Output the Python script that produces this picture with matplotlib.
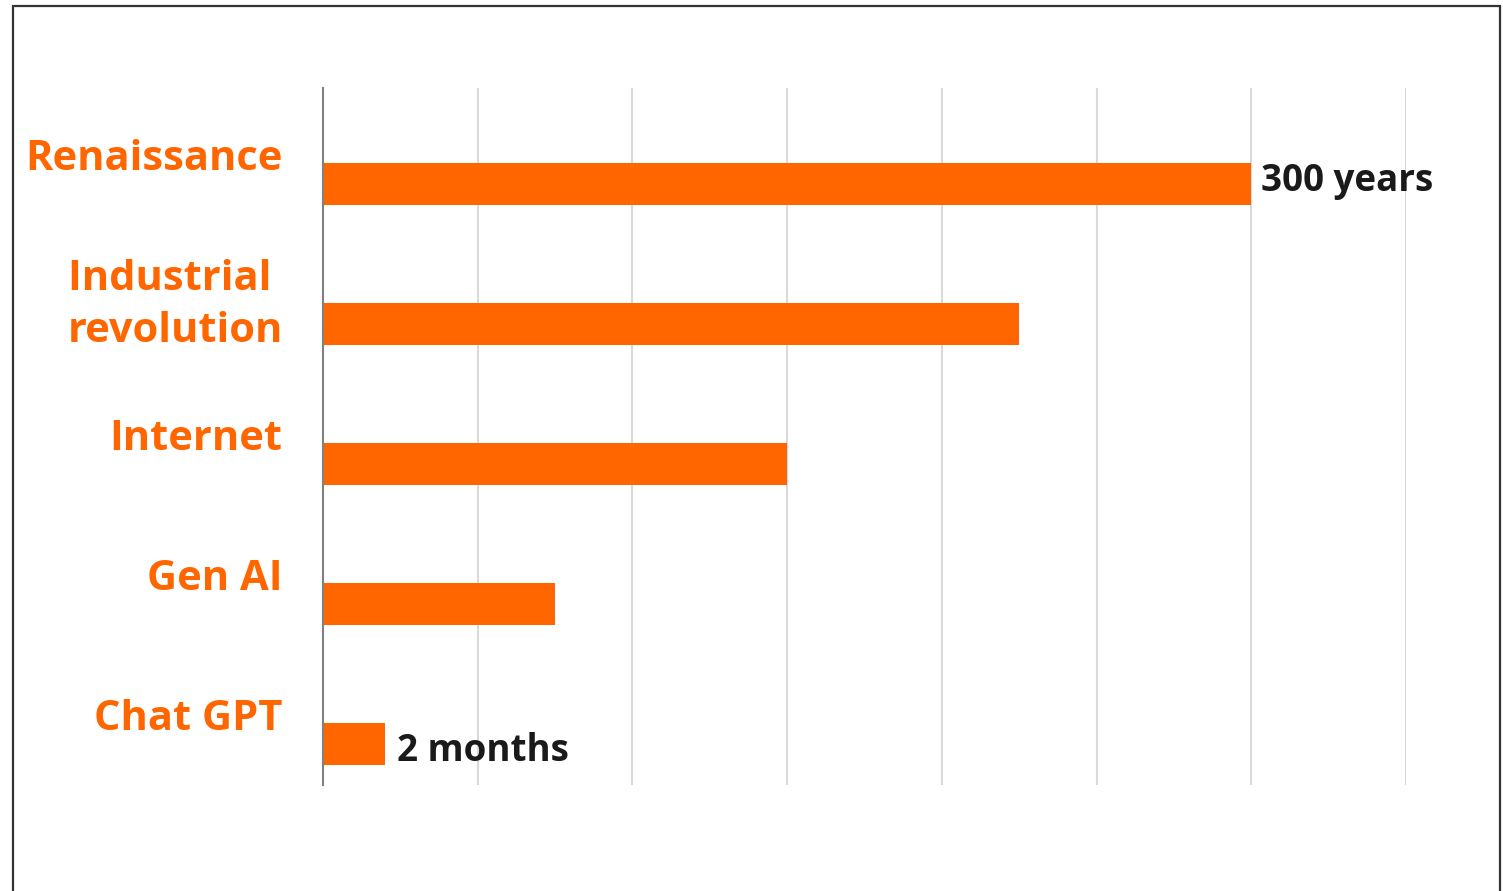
import matplotlib.pyplot as plt
from matplotlib.patches import Rectangle

# data
events = ['Renaissance', 'Industrial \nrevolution', 'Internet', 'Gen AI', 'Chat GPT']
durations = [6, 4.5, 3, 1.5, 0.4]
bar_labels = {0: '300 years', 4: '2 months'}

orange = '#FF6600'
plt.rcParams['font.family'] = ['Open Sans', 'DejaVu Sans']

fig = plt.figure(figsize=(15.03, 8.91), dpi=100)
ax = fig.add_axes([0.2149, 0.119, 0.7206, 0.7822])

ypos = list(range(len(events)))
ax.barh(ypos, durations, height=0.3, color=orange, zorder=2)

# category labels sit a little above each bar
ax.set_yticks([y - 0.21 for y in ypos])
ax.set_yticklabels(events, fontsize=30, fontweight='bold', color=orange,
                   linespacing=1.38)
ax.tick_params(axis='y', length=0, pad=29)
ax.tick_params(axis='x', length=0, labelbottom=False)

# end-of-bar notes
ax.text(durations[0] + 0.06, ypos[0] - 0.02, bar_labels[0], fontsize=26.5,
        fontweight='bold', color='#1a1a1a', va='center', ha='left')
ax.text(durations[4] + 0.08, ypos[4] + 0.05, bar_labels[4], fontsize=26.5,
        fontweight='bold', color='#1a1a1a', va='center', ha='left')

ax.set_xlim(0, 7)
ax.set_xticks(range(0, 8))
ax.set_ylim(4.293, -0.686)
ax.grid(axis='x', color='#d9d9d9', linewidth=1.5, zorder=0)
ax.set_axisbelow(True)

for side in ['top', 'right', 'bottom']:
    ax.spines[side].set_visible(False)
ax.spines['left'].set_color('#808080')
ax.spines['left'].set_linewidth(1.5)
ax.spines['left'].set_zorder(3)

# outer frame, cut off at the bottom
fig.patches.append(Rectangle((0.0087, -0.02), 0.9893, 1.0133, transform=fig.transFigure,
                             fill=False, edgecolor='#333333', linewidth=1.6))

fig.savefig('out.png', dpi=100)
